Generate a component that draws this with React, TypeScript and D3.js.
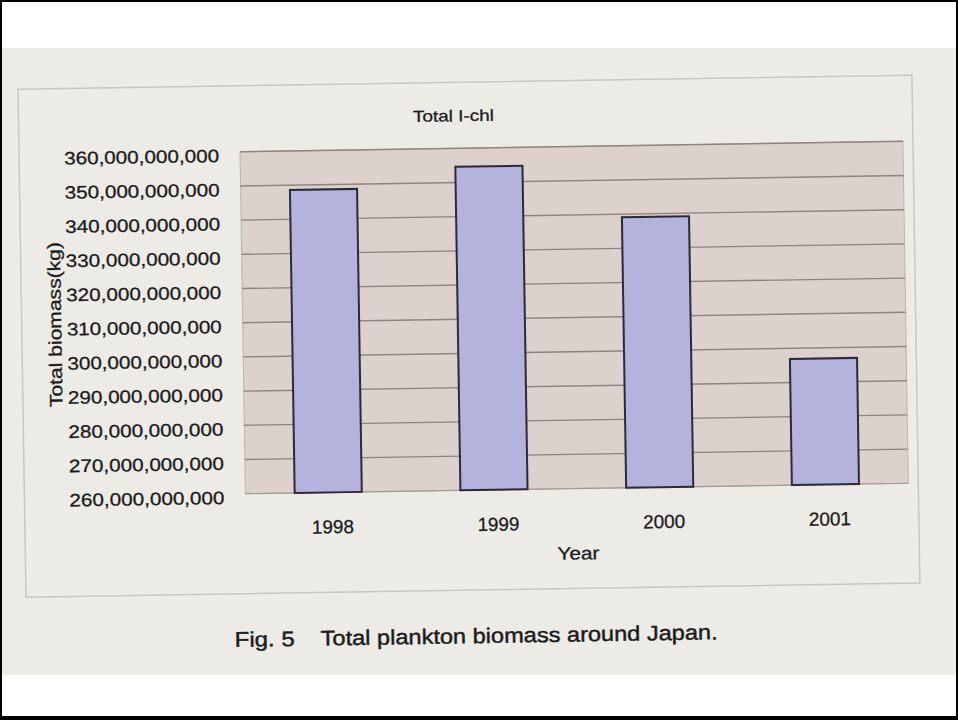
import React from "react";
import * as d3 from "d3";

// Total plankton biomass (kg) per survey year
const years = ["1998", "1999", "2000", "2001"];
const biomass = [348.6e9, 354.6e9, 339.1e9, 296.9e9];
const yTicks = [260e9, 270e9, 280e9, 290e9, 300e9, 310e9, 320e9, 330e9, 340e9, 350e9, 360e9];

const chartTitle = "Total I-chl";
const yTitle = "Total biomass(kg)";
const xTitle = "Year";
const figLabel = "Fig. 5";
const caption = "Total plankton biomass around Japan.";

const W = 958;
const H = 720;
const FONT = "'Liberation Sans', Arial, Helvetica, sans-serif";
const INK = "#1c1c1c";

export default function App() {
  const plot = { left: 243, right: 906, top: 148, bottom: 490 };

  const x = d3.scaleBand<string>().domain(years).range([plot.left, plot.right]).paddingInner(0).paddingOuter(0);
  const y = d3.scaleLinear().domain([260e9, 360e9]).range([plot.bottom, plot.top]);
  const fmt = d3.format(",");
  const barW = x.bandwidth() * 0.405;

  return (
    <svg
      width={W}
      height={H}
      viewBox={`0 0 ${W} ${H}`}
      style={{ position: "fixed", left: 0, top: 0, display: "block" }}
      fontFamily={FONT}
    >
      {/* page frame */}
      <rect x={0} y={0} width={W} height={H} fill="#000" />
      <rect x={2} y={2} width={W - 4} height={H - 6} fill="#fff" />
      <rect x={2} y={48} width={W - 4} height={627} fill="#ecebe6" />

      <g transform="rotate(-0.9, 479, 340)">
        {/* figure box */}
        <rect x={22} y={82} width={894} height={508} fill="none" stroke="#c9c7c1" strokeWidth={1.5} />

        <text x={457} y={121} fontSize={16} fill={INK} stroke={INK} strokeWidth={0.3} textAnchor="middle" textLength={81} lengthAdjust="spacingAndGlyphs">
          {chartTitle}
        </text>

        {/* plot area */}
        <rect
          x={plot.left}
          y={plot.top}
          width={plot.right - plot.left}
          height={plot.bottom - plot.top}
          fill="#dcd1cc"
          stroke="#bdb3ae"
          strokeWidth={1}
        />

        {/* horizontal grid */}
        {yTicks.slice(1).map((t) => (
          <line key={t} x1={plot.left} x2={plot.right} y1={y(t)} y2={y(t)} stroke="#8e8480" strokeWidth={1.4} />
        ))}
        <line x1={plot.left} x2={plot.right} y1={plot.bottom} y2={plot.bottom} stroke="#a39995" strokeWidth={1.2} />

        {/* bars */}
        {years.map((yr, i) => {
          const cx = (x(yr) as number) + x.bandwidth() / 2;
          return (
            <rect
              key={yr}
              x={cx - barW / 2}
              y={y(biomass[i])}
              width={barW}
              height={plot.bottom - y(biomass[i])}
              fill="#b3b3dd"
              stroke="#2b2b38"
              strokeWidth={2}
            />
          );
        })}

        {/* y tick labels */}
        {yTicks.map((t) => (
          <text
            key={t}
            x={222}
            y={y(t) + 10}
            fontSize={18}
            fill={INK}
            stroke={INK}
            strokeWidth={0.3}
            textAnchor="end"
            textLength={155}
            lengthAdjust="spacingAndGlyphs"
          >
            {fmt(t)}
          </text>
        ))}

        {/* y axis title */}
        <text
          transform="translate(61.5, 318) rotate(-90)"
          fontSize={18}
          fill={INK}
          stroke={INK}
          strokeWidth={0.3}
          textAnchor="middle"
          textLength={165}
          lengthAdjust="spacingAndGlyphs"
        >
          {yTitle}
        </text>

        {/* x tick labels */}
        {years.map((yr) => (
          <text
            key={yr}
            x={(x(yr) as number) + x.bandwidth() / 2 + 4}
            y={531}
            fontSize={19}
            fill={INK}
            stroke={INK}
            strokeWidth={0.3}
            textAnchor="middle"
            textLength={42}
            lengthAdjust="spacingAndGlyphs"
          >
            {yr}
          </text>
        ))}

        <text x={575} y={561} fontSize={18} fill={INK} stroke={INK} strokeWidth={0.3} textAnchor="middle" textLength={42} lengthAdjust="spacingAndGlyphs">
          {xTitle}
        </text>

        {/* figure caption */}
        <text x={230} y={643} fontSize={21} fill={INK} stroke={INK} strokeWidth={0.45} textLength={60} lengthAdjust="spacingAndGlyphs">
          {figLabel}
        </text>
        <text x={316} y={643} fontSize={21} fill={INK} stroke={INK} strokeWidth={0.45} textLength={397} lengthAdjust="spacingAndGlyphs">
          {caption}
        </text>
      </g>
    </svg>
  );
}
